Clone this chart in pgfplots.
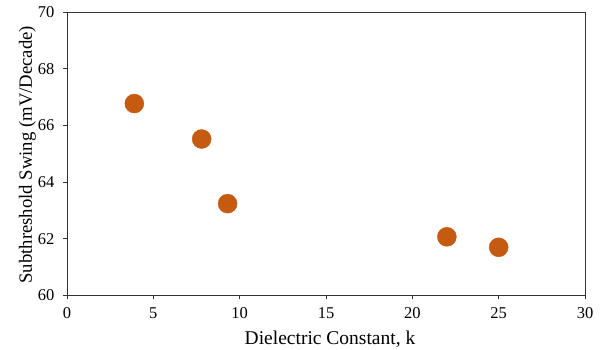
\documentclass[border=0pt]{standalone}
\usepackage{pgfplots}
\pgfplotsset{compat=1.18}
\usepackage{fontspec}
\setmainfont{Liberation Serif}
\definecolor{mk}{HTML}{C55A11}
\begin{document}
\begin{tikzpicture}
\begin{axis}[
  name=ax,
  scale only axis,
  width=518pt, height=283.5pt,
  xmin=0, xmax=30, ymin=60, ymax=70,
  xtick={0,5,...,30}, ytick={60,62,...,70},
  tick align=outside,
  xtick pos=bottom, ytick pos=left,
  major tick length=4pt,
  axis line style={black!80, line width=0.9pt},
  tick style={black!80, line width=0.8pt},
  /pgf/number format/assume math mode=true,
  ticklabel style={font=\fontsize{16.5}{18}\selectfont},
  xticklabel style={anchor=base, yshift=-19.5pt},
  yticklabel style={xshift=-5pt},
  xlabel={Dielectric Constant, k},
  ylabel={Subthreshold Swing (mV/Decade)},
  xlabel style={font=\fontsize{19.5}{21}\selectfont, at={(axis description cs:0.5,0)}, anchor=base, yshift=-49.5pt, xshift=4pt},
  ylabel style={font=\fontsize{18.7}{21}\selectfont, at={(axis description cs:0,0.5)}, anchor=base, yshift=35pt, xshift=-1pt},
]
\addplot[only marks, mark=*, mark size=9.5pt, mark options={fill=mk, draw=mk}]
coordinates {(3.9,66.77) (7.8,65.52) (9.3,63.24) (22.0,62.07) (25.0,61.70)};
\end{axis}
\pgfresetboundingbox
\path ([xshift=-67pt,yshift=-54.5pt]ax.south west) rectangle ([xshift=17pt,yshift=12pt]ax.north east);
\end{tikzpicture}
\end{document}
